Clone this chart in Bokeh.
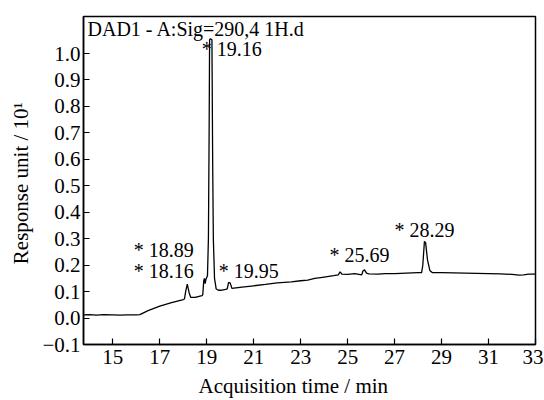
from bokeh.plotting import figure
from bokeh.models import FixedTicker, CustomJSTickFormatter, Label, ColumnDataSource, Title
from bokeh.core.properties import value
from bokeh.embed import file_html
from bokeh.resources import INLINE

# ---- data ----
time_min = [13.75, 14.0, 14.3, 14.6, 15.0, 15.3, 15.6, 16.0, 16.15,
            16.5, 17.0, 17.5, 18.0, 18.05, 18.1, 18.17, 18.25, 18.32,
            18.5, 18.8, 18.83, 18.87, 18.9, 18.93, 18.97, 19.03, 19.07,
            19.1, 19.12, 19.16, 19.22, 19.25, 19.28, 19.33, 19.4, 19.5,
            19.6, 19.8, 19.87, 19.93, 20.0, 20.07, 20.5, 21.0, 21.5,
            22.0, 22.3, 22.6, 23.0, 23.3, 23.6, 24.0, 24.4, 24.6,
            24.68, 24.75, 25.0, 25.3, 25.6, 25.65, 25.72, 25.8, 25.9,
            26.3, 26.6, 27.0, 27.5, 28.0, 28.15, 28.2, 28.27, 28.32,
            28.4, 28.5, 28.6, 29.0, 29.5, 30.0, 30.5, 31.0, 31.5,
            32.0, 32.3, 32.5, 32.7, 33.0]
response = [0.012, 0.013, 0.011, 0.013, 0.012, 0.011, 0.012, 0.012, 0.013,
            0.028, 0.045, 0.058, 0.070, 0.072, 0.100, 0.128, 0.095, 0.078,
            0.078, 0.085, 0.088, 0.140, 0.150, 0.130, 0.148, 0.160, 0.300,
            0.700, 1.052, 1.056, 1.052, 0.600, 0.300, 0.150, 0.110, 0.105,
            0.105, 0.108, 0.110, 0.135, 0.132, 0.112, 0.117, 0.122, 0.127,
            0.133, 0.135, 0.137, 0.141, 0.143, 0.150, 0.155, 0.160, 0.163,
            0.175, 0.166, 0.165, 0.168, 0.163, 0.178, 0.182, 0.170, 0.167,
            0.166, 0.168, 0.168, 0.170, 0.172, 0.172, 0.200, 0.290, 0.285,
            0.220, 0.180, 0.172, 0.172, 0.171, 0.170, 0.169, 0.168, 0.167,
            0.165, 0.162, 0.163, 0.166, 0.166]

peak_labels = ["* 19.16", "* 18.89", "* 18.16", "* 19.95", "* 25.69", "* 28.29"]

# annotation anchors (layout, data coordinates: left edge / vertical middle)
label_x = [18.79, 15.89, 15.89, 19.51, 24.23, 27.0]
label_y = [1.017, 0.257, 0.178, 0.178, 0.238, 0.333]

x_ticks = [15, 17, 19, 21, 23, 25, 27, 29, 31, 33]
y_ticks = [-0.1, 0.0, 0.1, 0.2, 0.3, 0.4, 0.5, 0.6, 0.7, 0.8, 0.9, 1.0]

FONT = "Liberation Serif"
FS = "20px"
TICK_FS = "21px"
AX_FS = "21px"

p = figure(frame_width=452, frame_height=328,
           x_range=(13.75, 33), y_range=(-0.1, 1.14),
           output_backend="svg", toolbar_location=None)
p.min_border_left = 82
p.min_border_right = 8
p.min_border_top = 16
p.min_border_bottom = 54
p.background_fill_color = "white"
p.border_fill_color = "white"
p.grid.visible = False
p.outline_line_color = "black"
p.outline_line_width = 1.5

p.line(time_min, response, line_color="black", line_width=1.3)

src = ColumnDataSource(dict(x=label_x, y=label_y, t=peak_labels))
p.text(x="x", y="y", text="t", source=src, text_font=value(FONT),
       text_font_size=FS, text_baseline="middle", text_align="left",
       text_color="black")

p.add_layout(Label(x=13.75, y=1.14, x_offset=4, y_offset=-1,
                   text="DAD1 - A:Sig=290,4 1H.d", text_font=FONT,
                   text_font_size=FS, text_baseline="top", text_color="black"))

# axis titles as side titles (the reference's x title is left of centre)
p.add_layout(Title(text="Acquisition time / min", align="left", offset=115,
                   standoff=10, text_font=FONT, text_font_size=AX_FS,
                   text_font_style="normal", text_color="black"), "below")
p.add_layout(Title(text="Response unit  / 10\u00b9", align="center",
                   standoff=13, text_font=FONT, text_font_size=AX_FS,
                   text_font_style="normal", text_color="black"), "left")

for ax in (p.xaxis[0], p.yaxis[0]):
    ax.axis_line_color = "black"
    ax.axis_line_width = 1.5
    ax.major_tick_line_color = "black"
    ax.major_tick_line_width = 1.2
    ax.major_tick_in = 6
    ax.major_tick_out = 0
    ax.minor_tick_line_color = None
    ax.major_label_text_font = FONT
    ax.major_label_text_font_size = TICK_FS
    ax.major_label_text_color = "black"

p.xaxis[0].ticker = FixedTicker(ticks=x_ticks)
p.yaxis[0].ticker = FixedTicker(ticks=y_ticks)
p.yaxis[0].formatter = CustomJSTickFormatter(
    code="return tick < -1e-9 ? '\\u2212' + (-tick).toFixed(1) : Math.abs(tick).toFixed(1);")
p.xaxis[0].major_label_standoff = 5
p.yaxis[0].major_label_standoff = 3

open("out.html", "w").write(file_html(p, INLINE))
